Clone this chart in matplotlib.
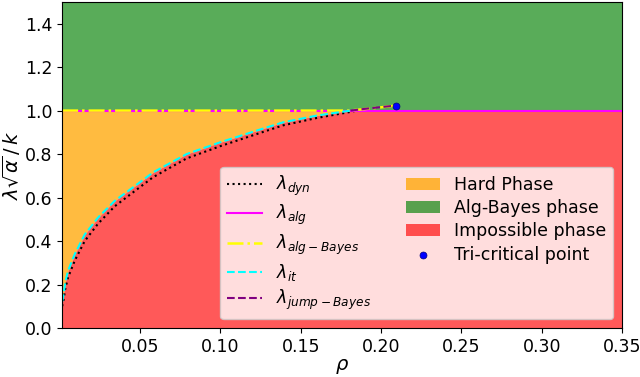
import numpy as np
import matplotlib
matplotlib.use("Agg")
import matplotlib.pyplot as plt

# ---- data ----
rho_it = [0.0015, 0.0021, 0.0035, 0.0052, 0.0094, 0.0156, 0.0239, 0.0343, 0.0457,
          0.0582, 0.079, 0.0998, 0.1226, 0.139, 0.160, 0.181]
lam_it = [0.12, 0.14, 0.21, 0.263, 0.34, 0.43, 0.508, 0.585, 0.647,
          0.716, 0.80, 0.854, 0.908, 0.946, 0.977, 1.0]

rho_dyn = [0.0015, 0.0021, 0.0035, 0.0052, 0.0094, 0.0156, 0.0239, 0.0343, 0.0457,
           0.0582, 0.079, 0.0998, 0.1226, 0.139, 0.160, 0.181, 0.185]
lam_dyn = [0.10, 0.115, 0.18, 0.232, 0.31, 0.40, 0.48, 0.56, 0.624,
           0.694, 0.78, 0.836, 0.892, 0.932, 0.966, 0.994, 1.0]

rho_alg = [0.0015, 0.35]
lam_alg = [1.0, 1.0]

rho_algb = [0.0015, 0.18, 0.19, 0.20, 0.209]
lam_algb = [1.0, 1.0, 1.007, 1.015, 1.023]

rho_jump = [0.181, 0.19, 0.20, 0.209]
lam_jump = [1.0, 1.008, 1.016, 1.023]

tri_rho = [0.209]
tri_lam = [1.023]

RHO_MAX = 0.35
LAM_MAX = 1.5

plt.rcParams['font.size'] = 12.5
fig, ax = plt.subplots(figsize=(6.4, 3.77), dpi=100)
fig.subplots_adjust(left=0.097, right=0.972, bottom=0.130, top=0.995)

# phase regions
ax.fill_between([rho_it[0], RHO_MAX], 1.0, LAM_MAX, color='green', alpha=0.65,
                linewidth=0, label='Alg-Bayes phase')
ax.fill_between(rho_it, lam_it, 1.0, color='orange', alpha=0.75, linewidth=0,
                label='Hard Phase')
red_x = np.concatenate([rho_it, [RHO_MAX]])
red_y = np.concatenate([lam_it, [1.0]])
ax.fill_between(red_x, 0, red_y, color='red', alpha=0.65, linewidth=0,
                label='Impossible phase')

# transition lines
ax.plot(rho_dyn, lam_dyn, ':', color='black', lw=1.5, label=r'$\lambda_{dyn}$')
ax.plot(rho_alg, lam_alg, '-', color='magenta', lw=1.5, label=r'$\lambda_{alg}$')
ax.plot(rho_algb, lam_algb, '-.', color='yellow', lw=1.8, label=r'$\lambda_{alg-Bayes}$')
ax.plot(rho_it, lam_it, '--', color='cyan', lw=1.5, label=r'$\lambda_{it}$')
ax.plot(rho_jump, lam_jump, '--', color='purple', lw=1.5, label=r'$\lambda_{jump-Bayes}$')
ax.scatter(tri_rho, tri_lam, s=25, color='blue', edgecolor='navy', linewidth=0.5,
           zorder=5, label='Tri-critical point')

ax.set_xlim(rho_it[0], RHO_MAX)
ax.set_ylim(0, LAM_MAX)
ax.set_xticks([0.05, 0.10, 0.15, 0.20, 0.25, 0.30, 0.35])
ax.set_yticks(np.arange(0, 1.41, 0.2))
ax.set_xlabel(r'$\rho$', fontsize=14, labelpad=1)
ax.set_ylabel(r'$\lambda\sqrt{\alpha}\,/\,k$', fontsize=14, labelpad=1)

h, l = ax.get_legend_handles_labels()
order = [l.index(s) for s in [r'$\lambda_{dyn}$', r'$\lambda_{alg}$', r'$\lambda_{alg-Bayes}$',
                              r'$\lambda_{it}$', r'$\lambda_{jump-Bayes}$', 'Hard Phase',
                              'Alg-Bayes phase', 'Impossible phase', 'Tri-critical point']]
ax.legend([h[i] for i in order], [l[i] for i in order], ncol=2, loc='lower right',
          fontsize=12.5, labelspacing=0.3)

fig.savefig('out.png', dpi=100)
